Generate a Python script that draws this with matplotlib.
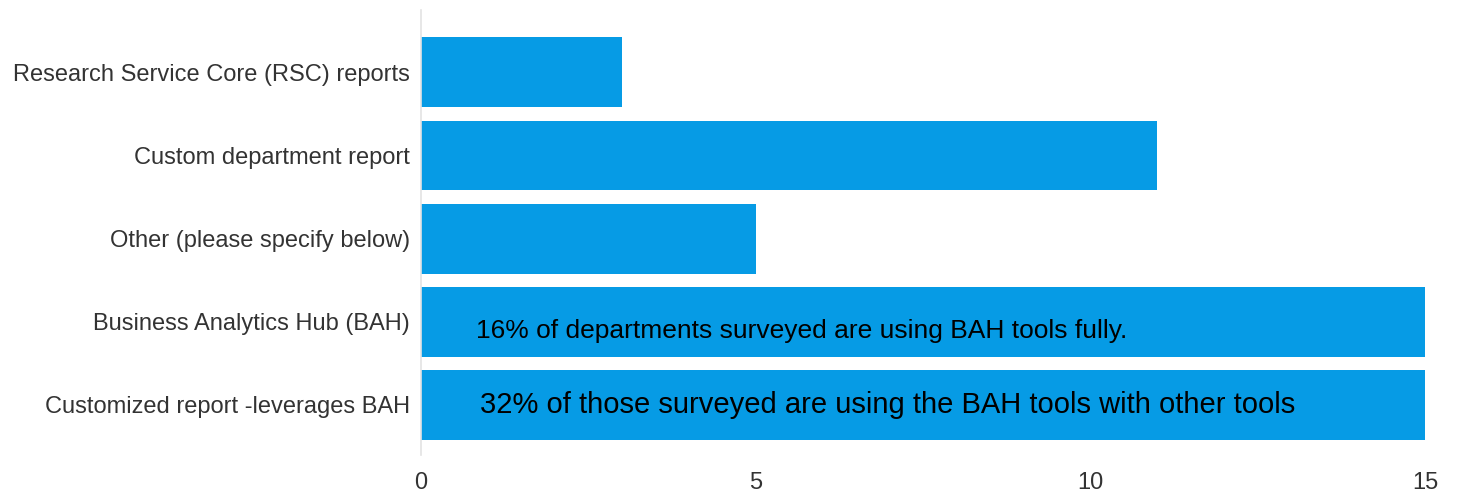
import matplotlib.pyplot as plt

plt.rcParams['font.family'] = ['Liberation Sans', 'DejaVu Sans']

categories = ['Customized report -leverages BAH', 'Business Analytics Hub (BAH)',
              'Other (please specify below)', 'Custom department report',
              'Research Service Core (RSC) reports']
counts = [15, 15, 5, 11, 3]
notes = ['32% of those surveyed are using the BAH tools with other tools',
         '16% of departments surveyed are using BAH tools fully.']

fig = plt.figure(figsize=(14.57, 4.95), dpi=100)
ax = fig.add_axes([0.289, 0.081, 0.689, 0.899])

ypos = range(len(categories))
ax.barh(ypos, counts, height=0.84, color='#069be5')

ax.set_xlim(0, 15)
ax.set_ylim(-0.6, 4.75)
ax.set_xticks([0, 5, 10, 15])
ax.set_yticks(list(ypos))
ax.set_yticklabels(categories)
ax.tick_params(axis='both', length=0, labelsize=17, labelcolor='#333333')
ax.tick_params(axis='y', pad=8)
ax.tick_params(axis='x', pad=12)

for s in ['top', 'right', 'bottom']:
    ax.spines[s].set_visible(False)
ax.spines['left'].set_color('#e3e3e3')
ax.spines['left'].set_linewidth(1.2)

ax.text(0.88, 0.0, notes[0], fontsize=21, color='black', va='center')
ax.text(0.82, 0.89, notes[1], fontsize=19, color='black', va='center')

fig.savefig('out.png', dpi=100)
